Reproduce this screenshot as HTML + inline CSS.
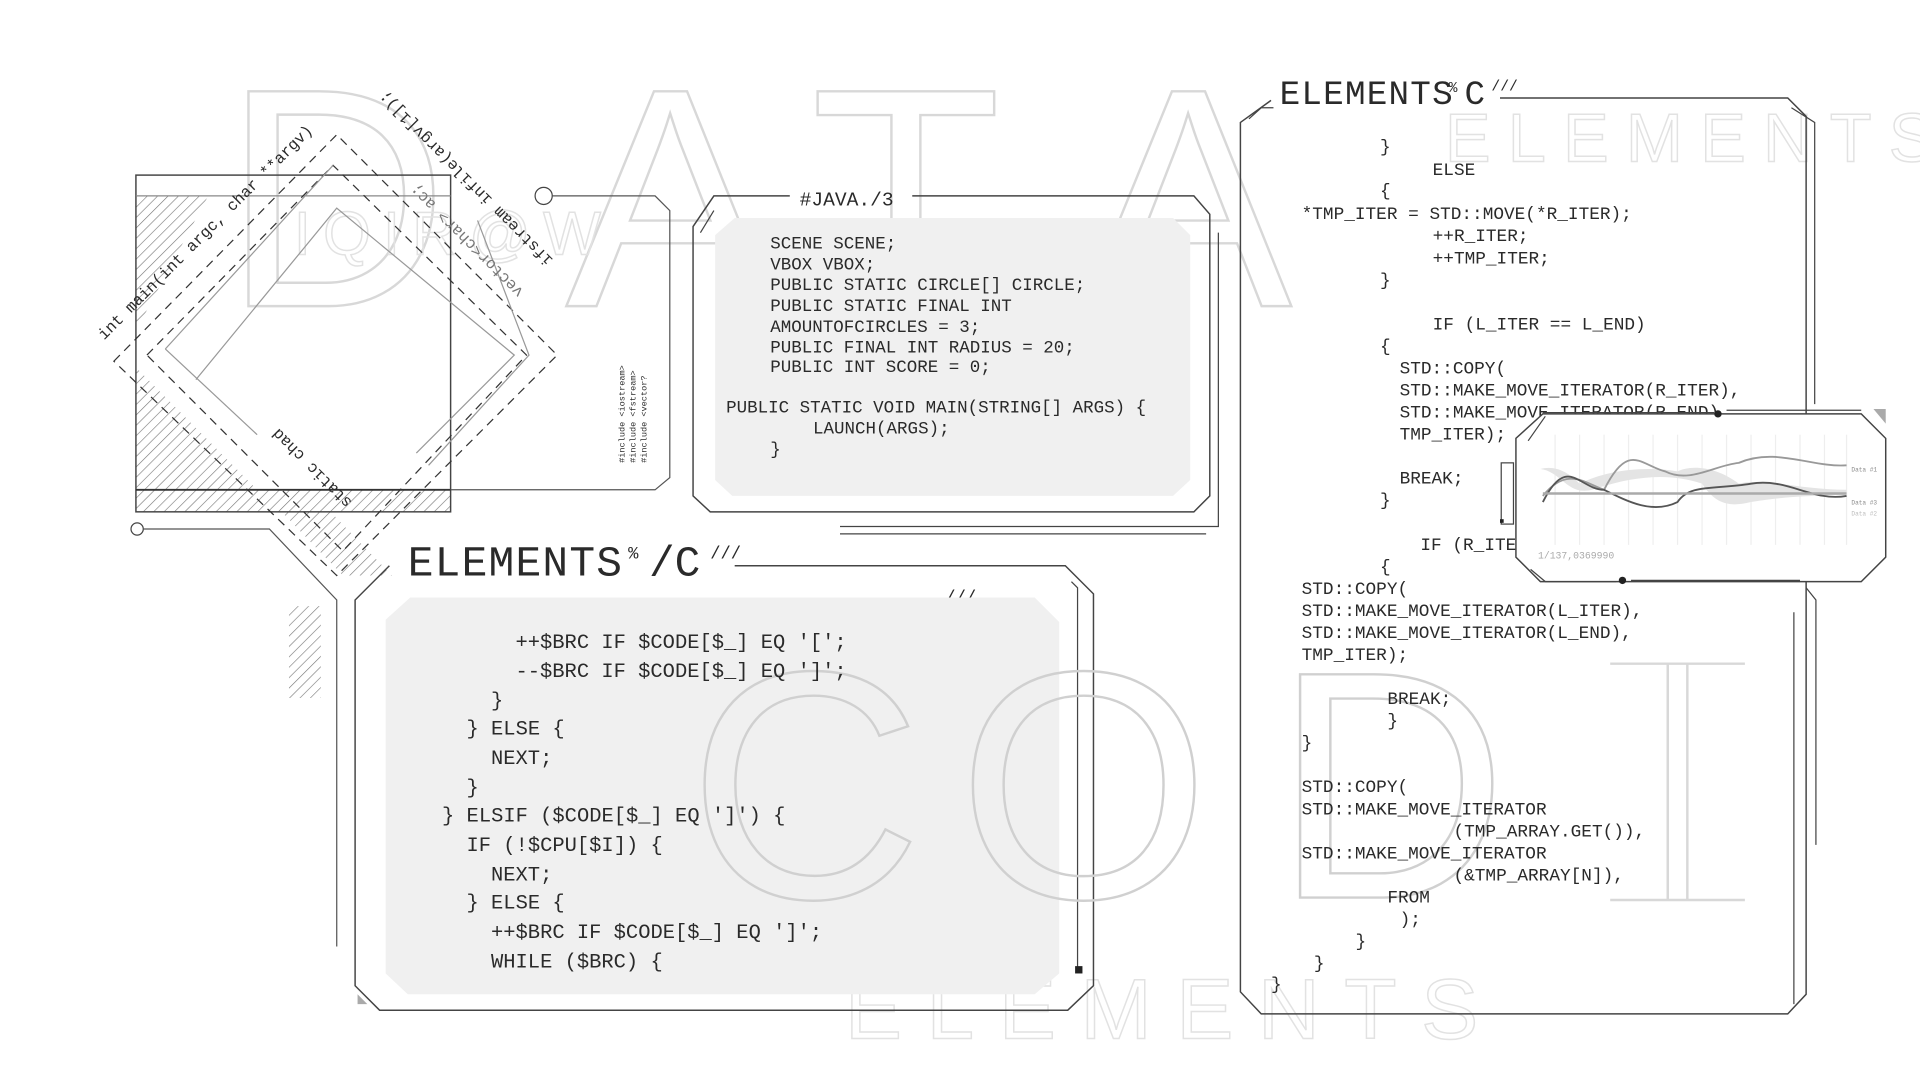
<!DOCTYPE html>
<html><head><meta charset="utf-8"><style>
html,body{margin:0;padding:0;background:#fff;width:1920px;height:1080px;overflow:hidden}
svg{display:block}
.c{font-family:"Liberation Mono",monospace;fill:#2a2a2a}
</style></head><body>
<svg width="1920" height="1080" viewBox="0 0 1568 882" xmlns="http://www.w3.org/2000/svg">
<defs>
<pattern id="h" width="6" height="6" patternUnits="userSpaceOnUse" patternTransform="rotate(45)"><line x1="0" y1="0" x2="0" y2="6" stroke="#777" stroke-width="1"/></pattern>
</defs>
<!-- background big letters -->
<g font-family="Liberation Sans,sans-serif" fill="none" stroke="#d8d8d8" stroke-width="2" font-size="255">
<text x="182" y="250">D</text>
<text x="462" y="250">A</text>
<text x="662" y="250">T</text>
<text x="885" y="250">A</text>
</g>
<g font-family="Liberation Sans,sans-serif" fill="none" stroke="#e2e2e2" stroke-width="1.2">
<text x="1180" y="132" font-size="56" letter-spacing="14">ELEMENTS</text>
<text x="690" y="848" font-size="70" letter-spacing="20">ELEMENTS</text>
<text x="240" y="208" font-size="50" letter-spacing="10">IQIR@W</text>
</g>
<!-- left square -->
<polygon points="111,160 170,160 111,270" fill="url(#h)"/>
<polygon points="111,300 111,400 210,400" fill="url(#h)"/>
<rect x="111" y="400" width="257" height="18" fill="url(#h)"/>
<polygon points="230,418 280,470 320,470 270,418" fill="url(#h)"/>
<rect x="236" y="495" width="26" height="75" fill="url(#h)"/>
<rect x="111" y="143" width="257" height="275" fill="none" stroke="#444" stroke-width="1.2"/>
<line x1="111" y1="160" x2="368" y2="160" stroke="#888"/>
<line x1="111" y1="400" x2="368" y2="400" stroke="#333" stroke-width="1.5"/>
<!-- diamonds -->
<polygon points="93,295 275,110 455,290 275,470" fill="none" stroke="#333" stroke-dasharray="7,5"/>
<polygon points="120,290 272,135 430,290 280,450" fill="none" stroke="#333" stroke-dasharray="7,5"/>
<polyline points="160,310 275,170 420,290 340,370" fill="none" stroke="#999"/>
<polyline points="135,285 272,135" fill="none" stroke="#999"/>
<polyline points="390,180 432,290 350,380" fill="none" stroke="#999"/>
<polyline points="135,285 210,355" fill="none" stroke="#999"/>
<g class="c" font-size="13">
<text transform="translate(85,278) rotate(-45)">int main(int argc, char **argv)</text>
<text transform="translate(452,212) rotate(-135)">ifstream infile(argv[1]);</text>
<text transform="translate(428,238) rotate(-135)" fill="#777">vector&lt;char&gt; ac;</text>
<text transform="translate(288,410) rotate(225)">static chad</text>
</g>
<text class="c" font-size="7" transform="translate(510,378) rotate(-90)" fill="#666">#include &lt;iostream&gt;</text>
<text class="c" font-size="7" transform="translate(519,378) rotate(-90)" fill="#666">#include &lt;fstream&gt;</text>
<text class="c" font-size="7" transform="translate(528,378) rotate(-90)" fill="#666">#include &lt;vector?</text>
<!-- connectors -->
<circle cx="444" cy="160" r="7" fill="#fff" stroke="#444"/>
<polyline points="451,160 535,160 547,172 547,390 535,400 368,400" fill="none" stroke="#555"/>
<circle cx="112" cy="432" r="5" fill="#fff" stroke="#444"/>
<polyline points="117,432 220,432 275,490 275,773" fill="none" stroke="#555"/>
<!-- JAVA panel -->
<polyline points="645,160 583,160 566,185 566,405 580,418 975,418 988,405 988,175 975,160 745,160" fill="none" stroke="#444" stroke-width="1.2"/>
<line x1="572" y1="190" x2="583" y2="172" stroke="#444"/>
<path d="M600,178 H958 L972,192 V392 L958,405 H598 L584,392 V192 Z" fill="#f0f0f0"/>
<text class="c" x="653" y="168" font-size="16">#JAVA./3</text>
<polyline points="995,190 995,430 686,430" fill="none" stroke="#444"/>
<line x1="686" y1="436" x2="985" y2="436" stroke="#444"/>
<g class="c" font-size="14.3" xml:space="preserve">
<text x="629" y="203">SCENE SCENE;</text>
<text x="629" y="220">VBOX VBOX;</text>
<text x="629" y="237">PUBLIC STATIC CIRCLE[] CIRCLE;</text>
<text x="629" y="254">PUBLIC STATIC FINAL INT</text>
<text x="629" y="271">AMOUNTOFCIRCLES = 3;</text>
<text x="629" y="288">PUBLIC FINAL INT RADIUS = 20;</text>
<text x="629" y="304">PUBLIC INT SCORE = 0;</text>
<text x="593" y="337">PUBLIC STATIC VOID MAIN(STRING[] ARGS) {</text>
<text x="664" y="354">LAUNCH(ARGS);</text>
<text x="629" y="371">}</text>
</g>
<!-- middle ELEMENTS panel -->
<text class="c" x="333" y="470" font-size="35" letter-spacing="1">ELEMENTS</text>
<text class="c" x="513" y="456" font-size="14">%</text>
<text class="c" x="530" y="470" font-size="35">/C</text>
<text class="c" x="580" y="456" font-size="14">///</text>
<text class="c" x="772" y="492" font-size="14">///</text>
<polyline points="318,462 290,490 290,805 310,825 872,825 893,805 893,485 870,462 600,462" fill="none" stroke="#444" stroke-width="1.2"/>
<path d="M335,488 H845 L865,508 V795 L845,812 H333 L315,795 V506 Z" fill="#f0f0f0"/>
<polyline points="875,475 880,480 880,790" fill="none" stroke="#444"/>
<rect x="878" y="789" width="6" height="6" fill="#222"/>
<polygon points="292,812 300,820 292,820" fill="#aaa"/>
<!-- bottom big letters over fills -->
<g font-family="Liberation Sans,sans-serif" fill="none" stroke="#d0d0d0" stroke-width="2" font-size="265">
<text x="562" y="733">C</text>
<text x="782" y="733">O</text>
<text x="1040" y="733">D</text>
</g>
<g stroke="#d8d8d8" stroke-width="2" fill="none">
<line x1="1315" y1="542" x2="1425" y2="542"/><line x1="1315" y1="735" x2="1425" y2="735"/>
<line x1="1362" y1="542" x2="1362" y2="735"/><line x1="1378" y1="542" x2="1378" y2="735"/>
</g>
<g class="c" font-size="16.7" xml:space="preserve">
<text x="421" y="529">++$BRC IF $CODE[$_] EQ '[';</text>
<text x="421" y="553">--$BRC IF $CODE[$_] EQ ']';</text>
<text x="401" y="577">}</text>
<text x="381" y="600">} ELSE {</text>
<text x="401" y="624">NEXT;</text>
<text x="381" y="648">}</text>
<text x="361" y="671">} ELSIF ($CODE[$_] EQ ']') {</text>
<text x="381" y="695">IF (!$CPU[$I]) {</text>
<text x="401" y="719">NEXT;</text>
<text x="381" y="742">} ELSE {</text>
<text x="401" y="766">++$BRC IF $CODE[$_] EQ ']';</text>
<text x="401" y="790">WHILE ($BRC) {</text>
</g>
<!-- right panel -->
<text class="c" x="1045" y="85" font-size="28" letter-spacing="1">ELEMENTS</text>
<text class="c" x="1183" y="75" font-size="12">%</text>
<text class="c" x="1196" y="85" font-size="28">C</text>
<text class="c" x="1218" y="74" font-size="12">///</text>
<polyline points="1038,82 1013,100 1013,810 1030,828 1460,828 1475,812 1475,95 1460,80 1225,80" fill="none" stroke="#444" stroke-width="1.2"/>
<polyline points="1020,97 1030,88 1040,88" fill="none" stroke="#444"/>
<polyline points="1463,88 1482,100 1482,330" fill="none" stroke="#444"/>
<polyline points="1465,500 1465,820" fill="none" stroke="#444"/>
<polyline points="1475,480 1483,490 1483,690" fill="none" stroke="#444"/>
<g class="c" font-size="14.5" xml:space="preserve">
<text x="1127" y="124">}</text>
<text x="1170" y="143">ELSE</text>
<text x="1127" y="160">{</text>
<text x="1063" y="179">*TMP_ITER = STD::MOVE(*R_ITER);</text>
<text x="1170" y="197">++R_ITER;</text>
<text x="1170" y="215">++TMP_ITER;</text>
<text x="1127" y="233">}</text>
<text x="1170" y="269">IF (L_ITER == L_END)</text>
<text x="1127" y="287">{</text>
<text x="1143" y="305">STD::COPY(</text>
<text x="1143" y="323">STD::MAKE_MOVE_ITERATOR(R_ITER),</text>
<text x="1143" y="341">STD::MAKE_MOVE_ITERATOR(R_END),</text>
<text x="1143" y="359">TMP_ITER);</text>
<text x="1143" y="395">BREAK;</text>
<text x="1127" y="413">}</text>
<text x="1160" y="449">IF (R_ITER == R_END)</text>
<text x="1127" y="467">{</text>
<text x="1063" y="485">STD::COPY(</text>
<text x="1063" y="503">STD::MAKE_MOVE_ITERATOR(L_ITER),</text>
<text x="1063" y="521">STD::MAKE_MOVE_ITERATOR(L_END),</text>
<text x="1063" y="539">TMP_ITER);</text>
<text x="1133" y="575">BREAK;</text>
<text x="1133" y="593">}</text>
<text x="1063" y="611">}</text>
<text x="1063" y="647">STD::COPY(</text>
<text x="1063" y="665">STD::MAKE_MOVE_ITERATOR</text>
<text x="1187" y="683">(TMP_ARRAY.GET()),</text>
<text x="1063" y="701">STD::MAKE_MOVE_ITERATOR</text>
<text x="1187" y="719">(&amp;TMP_ARRAY[N]),</text>
<text x="1133" y="737">FROM</text>
<text x="1143" y="755">);</text>
<text x="1107" y="773">}</text>
<text x="1073" y="791">}</text>
<text x="1038" y="808">}</text>
</g>
<!-- chart panel -->
<rect x="1226" y="378" width="10" height="50" fill="none" stroke="#444"/>
<rect x="1225" y="424" width="3" height="3" fill="#222"/>
<polygon points="1260,338 1520,338 1540,358 1540,455 1520,475 1258,475 1238,455 1238,358" fill="#fff" stroke="#444" stroke-width="1.2"/>
<line x1="1248" y1="360" x2="1262" y2="340" stroke="#444"/>
<line x1="1260" y1="337" x2="1400" y2="337" stroke="#444"/>
<circle cx="1403" cy="338" r="3" fill="#222"/>
<line x1="1410" y1="335" x2="1520" y2="335" stroke="#444"/>
<polygon points="1530,334 1540,334 1540,346" fill="#aaa"/>
<g stroke="#eee"><line x1="1270" y1="355" x2="1270" y2="445"/><line x1="1290" y1="355" x2="1290" y2="445"/><line x1="1310" y1="355" x2="1310" y2="445"/><line x1="1330" y1="355" x2="1330" y2="445"/><line x1="1350" y1="355" x2="1350" y2="445"/><line x1="1370" y1="355" x2="1370" y2="445"/><line x1="1390" y1="355" x2="1390" y2="445"/><line x1="1410" y1="355" x2="1410" y2="445"/><line x1="1430" y1="355" x2="1430" y2="445"/><line x1="1450" y1="355" x2="1450" y2="445"/><line x1="1470" y1="355" x2="1470" y2="445"/><line x1="1490" y1="355" x2="1490" y2="445"/><line x1="1508" y1="355" x2="1508" y2="445"/></g>
<path d="M1258,383 C1275,385 1280,405 1300,400 C1330,390 1360,385 1390,395 C1400,410 1410,415 1430,410 C1460,405 1480,405 1508,404 L1508,400 C1470,400 1440,390 1420,395 C1400,380 1380,380 1370,385 C1340,380 1310,385 1290,395 C1280,385 1270,380 1258,383 Z" fill="#e4e4e4"/>
<path d="M1260,405 C1280,380 1295,395 1310,400 C1330,360 1340,380 1360,385 C1380,395 1400,380 1420,378 C1450,365 1480,382 1508,380" fill="none" stroke="#999" stroke-width="1.5"/>
<path d="M1260,410 C1280,370 1290,400 1310,400 C1330,410 1350,420 1370,410 C1380,395 1400,400 1430,395 C1460,390 1480,410 1508,405" fill="none" stroke="#555" stroke-width="1.5"/>
<line x1="1260" y1="403" x2="1508" y2="403" stroke="#aaa" stroke-width="2"/>
<text x="1256" y="456" font-family="Liberation Mono,monospace" font-size="8" fill="#aaa">1/137,0369990</text>
<text x="1512" y="385" font-family="Liberation Mono,monospace" font-size="5" fill="#888">Data #1</text>
<text x="1512" y="412" font-family="Liberation Mono,monospace" font-size="5" fill="#888">Data #3</text>
<text x="1512" y="421" font-family="Liberation Mono,monospace" font-size="5" fill="#bbb">Data #2</text>
<polyline points="1250,465 1262,475 1320,475" fill="none" stroke="#444"/>
<circle cx="1325" cy="474" r="3" fill="#222"/>
<line x1="1332" y1="474" x2="1470" y2="474" stroke="#444"/>
</svg>
</body></html>
